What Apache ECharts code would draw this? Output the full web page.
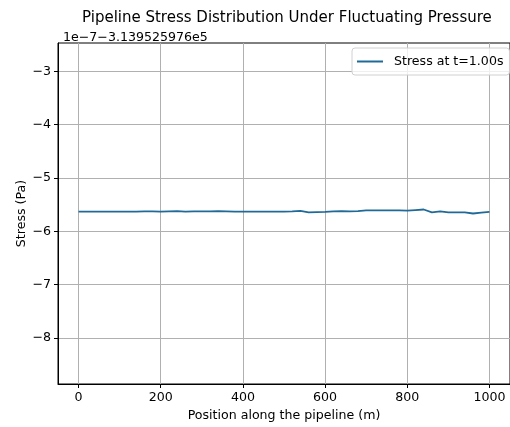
<!DOCTYPE html>
<html>
<head>
<meta charset="utf-8">
<script src="https://cdn.jsdelivr.net/npm/echarts@6/dist/echarts.min.js"></script>
<style>html,body{margin:0;padding:0;background:#fff}#c{width:510px;height:427px}</style>
</head>
<body>
<div id="c"></div>
<script>
const positions = [0,20,40,60,80,100,120,140,160,180,200,220,240,260,280,300,320,340,360,380,400,420,440,460,480,500,520,540,560,580,600,620,640,660,680,700,720,740,760,780,800,820,840,860,880,900,920,940,960,980,1000];
const stress = [-5.63,-5.63,-5.63,-5.63,-5.628,-5.63,-5.63,-5.628,-5.625,-5.627,-5.63,-5.625,-5.622,-5.628,-5.625,-5.625,-5.627,-5.62,-5.625,-5.63,-5.628,-5.628,-5.628,-5.628,-5.628,-5.628,-5.625,-5.615,-5.645,-5.64,-5.635,-5.625,-5.62,-5.625,-5.62,-5.605,-5.605,-5.605,-5.605,-5.605,-5.61,-5.60,-5.59,-5.645,-5.625,-5.645,-5.645,-5.645,-5.665,-5.65,-5.635];
const xTicks = [0,200,400,600,800,1000];
const yTicks = [-8,-7,-6,-5,-4,-3];
const titleText = 'Pipeline Stress Distribution Under Fluctuating Pressure';
const offsetText = '1e\u22127\u22123.139525976e5';
const seriesName = 'Stress at t=1.00s';
const xLabel = 'Position along the pipeline (m)';
const yLabel = 'Stress (Pa)';

const FONT = 'DejaVu Sans';
const FS = 12.6;
const chart = echarts.init(document.getElementById('c'), null, {renderer: 'canvas'});
const minus = v => String(v).replace('-', '\u2212');
chart.setOption({
  animation: false,
  backgroundColor: '#fff',
  title: [
    {text: titleText, left: 77, top: 6,
     textStyle: {fontFamily: FONT, fontSize: 15, fontWeight: 'normal', color: '#000'}},
    {text: offsetText, left: 58, top: 26,
     textStyle: {fontFamily: FONT, fontSize: FS, fontWeight: 'normal', color: '#000'}}
  ],
  legend: {
    data: [seriesName], left: 352, top: 48,
    orient: 'vertical',
    backgroundColor: 'rgba(255,255,255,0.8)',
    borderColor: '#d0d0d0', borderWidth: 1, borderRadius: 3,
    padding: [7, 6, 7, 5],
    itemWidth: 26, itemHeight: 10, itemGap: 8,
    icon: 'path://M0,4 L26,4 L26,6 L0,6 Z',
    textStyle: {fontFamily: FONT, fontSize: FS, color: '#000', padding: [0, 0, 0, 6]}
  },
  grid: {left: 58, right: -5, top: 43, bottom: 40, containLabel: false,
         show: true, borderColor: '#000', borderWidth: 1, backgroundColor: 'transparent'},
  xAxis: {
    type: 'value', min: -50, max: 1050,
    name: xLabel, nameLocation: 'middle', nameGap: 25, nameMoveOverlap: false,
    nameTextStyle: {fontFamily: FONT, fontSize: FS, color: '#000'},
    axisLine: {show: true, onZero: false, lineStyle: {color: '#000', width: 1}},
    axisTick: {show: true, length: 4, customValues: xTicks, lineStyle: {color: '#000'}},
    axisLabel: {customValues: xTicks, fontFamily: FONT, fontSize: FS, color: '#000', margin: 7,
                formatter: v => String(v)},
    splitLine: {show: true, lineStyle: {color: '#b0b0b0', width: 1}}
  },
  yAxis: {
    type: 'value', min: -8.86, max: -2.47,
    name: yLabel, nameLocation: 'middle', nameGap: 30, nameRotate: 90, nameMoveOverlap: false,
    nameTextStyle: {fontFamily: FONT, fontSize: FS, color: '#000'},
    axisLine: {show: true, onZero: false, lineStyle: {color: '#000', width: 1}},
    axisTick: {show: true, length: 4, customValues: yTicks, lineStyle: {color: '#000'}},
    axisLabel: {customValues: yTicks, fontFamily: FONT, fontSize: FS, color: '#000', margin: 7, formatter: minus},
    splitLine: {show: true, lineStyle: {color: '#b0b0b0', width: 1}}
  },
  series: [{
    name: seriesName, type: 'line',
    data: positions.map((p, i) => [p, stress[i]]),
    showSymbol: false, symbol: 'none',
    lineStyle: {color: '#1f6a98', width: 1.8},
    itemStyle: {color: '#1f6a98'}
  }]
});
</script>
</body>
</html>
